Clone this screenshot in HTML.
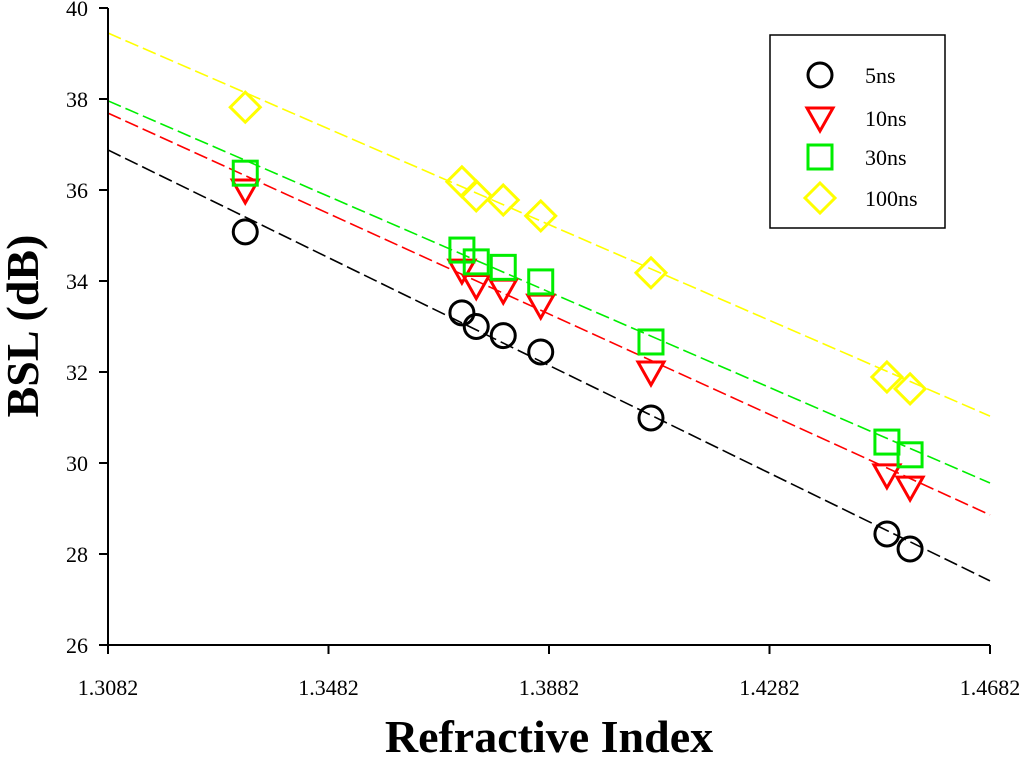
<!DOCTYPE html>
<html><head><meta charset="utf-8"><style>
body{margin:0;background:#fff;width:1024px;height:760px;overflow:hidden}
text{font-family:"Liberation Serif",serif}
</style></head><body>
<svg id="chart" width="1024" height="760" xmlns="http://www.w3.org/2000/svg"></svg>
<script>
const xValues=[1.3331,1.3724,1.3750,1.3799,1.3867,1.4067,1.4495,1.4537];
const series5=[35.08,33.30,33.00,32.80,32.44,30.99,28.44,28.11];
const series10=[36.00,34.24,33.90,33.80,33.47,32.00,29.74,29.47];
const series30=[36.37,34.68,34.42,34.30,33.98,32.66,30.46,30.18];
const series100=[37.82,36.18,35.87,35.78,35.43,34.18,31.89,31.63];
const fitStart=[36.88,37.69,37.96,39.45];
const fitEnd=[27.41,28.86,29.56,31.03];
const seriesNames=["5ns","10ns","30ns","100ns"];
const xTicks=["1.3082","1.3482","1.3882","1.4282","1.4682"];
const yTicks=[26,28,30,32,34,36,38,40];

const NS="http://www.w3.org/2000/svg";
const svg=document.getElementById('chart');
const L=108,R=990,T=8,B=645,xmin=1.3082,xmax=1.4682,ymin=26,ymax=40;
const sx=v=>L+(v-xmin)/(xmax-xmin)*(R-L);
const sy=v=>B-(v-ymin)/(ymax-ymin)*(B-T);
function mk(tag,attrs,parent){const e=document.createElementNS(NS,tag);for(const k in attrs)e.setAttribute(k,attrs[k]);(parent||svg).appendChild(e);return e;}
const colors=["#000000","#ff0000","#00ee00","#ffff00"];
const all=[series5,series10,series30,series100];

for(let i=0;i<4;i++){
 const l=mk('line',{x1:L,y1:sy(fitStart[i]),x2:R,y2:sy(fitEnd[i]),stroke:colors[i],'stroke-width':1.6,'stroke-dasharray':'14,5'});
 
 
}
function marker(i,x,y,g){
 const c=colors[i],sw=3;
 if(i===0)return mk('circle',{cx:x,cy:y,r:12,fill:'none',stroke:c,'stroke-width':sw},g);
 if(i===1)return mk('polygon',{points:`${x-13},${y-10} ${x+13},${y-10} ${x},${y+13}`,fill:'none',stroke:c,'stroke-width':sw},g);
 if(i===2)return mk('rect',{x:x-12,y:y-12,width:24,height:24,fill:'none',stroke:c,'stroke-width':sw},g);
 return mk('polygon',{points:`${x},${y-15} ${x+15},${y} ${x},${y+15} ${x-15},${y}`,fill:'none',stroke:c,'stroke-width':sw},g);
}
for(let i=0;i<4;i++){
 const g=mk('g',{});
 
 
 all[i].forEach((v,j)=>{
  const m=marker(i,sx(xValues[j]),sy(v),g);
  
  
 });
}
const ax=mk('line',{x1:L,y1:B,x2:R,y2:B,stroke:'#000','stroke-width':2});

const ay=mk('line',{x1:L,y1:T,x2:L,y2:B,stroke:'#000','stroke-width':2});

xTicks.forEach(t=>{
 const x=sx(parseFloat(t));
 mk('line',{x1:x,y1:B,x2:x,y2:B+9,stroke:'#000','stroke-width':2});
 const tx=mk('text',{x:x,y:B+50,'text-anchor':'middle','font-size':22});
 tx.textContent=t;
 
 
});
yTicks.forEach(t=>{
 const y=sy(t);
 mk('line',{x1:L-9,y1:y,x2:L,y2:y,stroke:'#000','stroke-width':2});
 const tx=mk('text',{x:L-20,y:y+8,'text-anchor':'end','font-size':22});
 tx.textContent=t;
 
 
});
const xt=mk('text',{x:549,y:760-8,'text-anchor':'middle','font-size':46,'font-weight':'bold'});
xt.textContent='Refractive Index';

const yt=mk('text',{x:0,y:0,'text-anchor':'middle','font-size':46,'font-weight':'bold',transform:'translate(38,326) rotate(-90)'});
yt.textContent='BSL (dB)';

const lg=mk('g',{});

mk('rect',{x:770,y:35,width:175,height:193,fill:'#fff',stroke:'#000','stroke-width':1.5},lg);
const ly=[75,118,157,198];
for(let i=0;i<4;i++){
 const e=mk('g',{},lg);
 
 
 marker(i,820,ly[i],e);
 const t=mk('text',{x:865,y:ly[i]+8,'font-size':22},e);
 t.textContent=seriesNames[i];
}
</script>
</body></html>
